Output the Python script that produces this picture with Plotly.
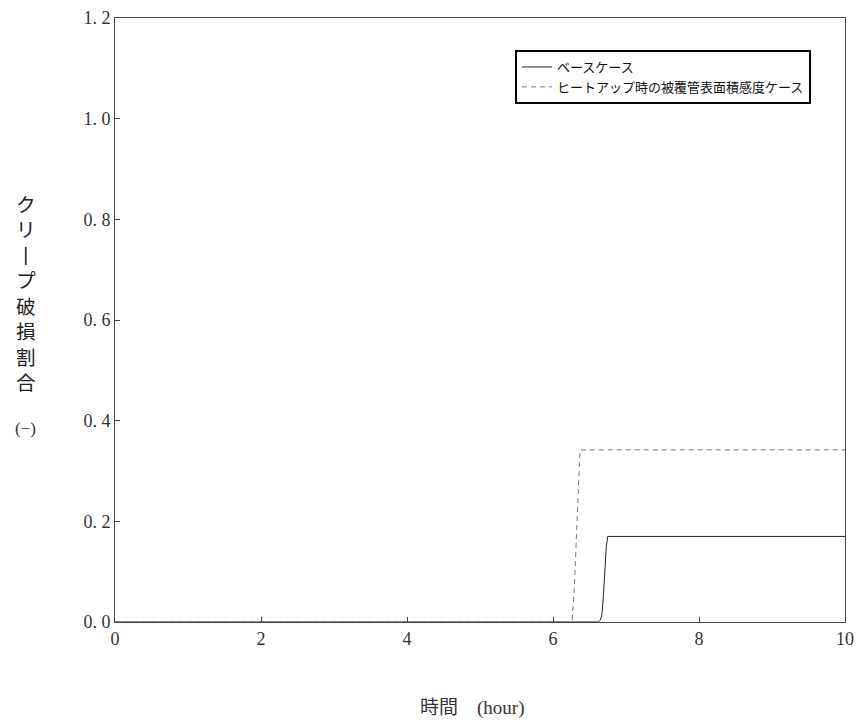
import plotly.graph_objects as go

# time (hour) vs creep damage fraction
base_t = [0, 6.62, 6.65, 6.67, 6.69, 6.71, 6.73, 6.75, 10]
base_v = [0, 0, 0.004, 0.015, 0.05, 0.10, 0.15, 0.17, 0.17]
heat_t = [0, 6.26, 6.29, 6.32, 6.35, 6.37, 10]
heat_v = [0, 0, 0.06, 0.17, 0.29, 0.342, 0.342]

names = ["ベースケース", "ヒートアップ時の被覆管表面積感度ケース"]
x_ticks = [0, 2, 4, 6, 8, 10]
y_ticks = [0, 0.2, 0.4, 0.6, 0.8, 1.0, 1.2]
y_tick_text = ["0.\u00a00", "0.\u00a02", "0.\u00a04", "0.\u00a06",
               "0.\u00a08", "1.\u00a00", "1.\u00a02"]
# vertical writing: the long-vowel mark is drawn upright
y_title_chars = ["ク", "リ", "丨", "プ", "破", "損", "割", "合"]

SERIF = "Liberation Serif, Noto Sans CJK JP"
CJK = "Noto Sans CJK JP, Liberation Serif"

# plot area in pixels
L, R, T, B = 115, 12, 18, 102
H = 724 - T - B


def py(pix):
    # page pixel row -> paper y
    return (724 - B - pix) / H


def px_(pix):
    return (pix - L) / (857 - L - R)


fig = go.Figure()
fig.add_trace(go.Scatter(
    x=base_t, y=base_v, name=names[0], mode="lines",
    line=dict(color="#222222", width=1),
))
fig.add_trace(go.Scatter(
    x=heat_t, y=heat_v, name=names[1], mode="lines",
    line=dict(color="#777777", width=1, dash="5px,4px"),
))

axis_common = dict(
    showgrid=False, zeroline=False, showline=True, mirror=True,
    linecolor="#444444", linewidth=1, automargin=False,
    ticks="inside", ticklen=5, tickcolor="#444444",
    tickfont=dict(family=SERIF, size=18, color="#333333"),
)

fig.update_layout(
    width=857, height=724,
    margin=dict(l=L, r=R, t=T, b=B),
    plot_bgcolor="white", paper_bgcolor="white",
    showlegend=True,
    legend=dict(
        x=px_(515), y=py(50), xanchor="left", yanchor="top",
        bgcolor="white", bordercolor="black", borderwidth=2,
        font=dict(family=CJK, size=13, color="#111111"),
        tracegroupgap=0, itemwidth=30,
    ),
    xaxis=dict(range=[0, 10], tickvals=x_ticks, **axis_common),
    yaxis=dict(range=[0, 1.2], tickvals=y_ticks, ticktext=y_tick_text, **axis_common),
)

fig.add_annotation(
    xref="paper", yref="paper", x=px_(472), y=py(705), yanchor="middle",
    text="時間\u3000<span style='font-family:Liberation Serif'>(hour)</span>",
    showarrow=False, font=dict(family=CJK, size=19, color="#333333"),
)
fig.add_annotation(
    xref="paper", yref="paper", x=px_(26), y=py(187), xanchor="center", yanchor="top",
    text="<br>".join(y_title_chars), showarrow=False,
    font=dict(family=CJK, size=19.6, color="#222222"),
)
fig.add_annotation(
    xref="paper", yref="paper", x=px_(25), y=py(428), xanchor="center", yanchor="middle",
    text="(−)", showarrow=False,
    font=dict(family=SERIF, size=17, color="#333333"),
)

fig.write_html("out.html", config={"displayModeBar": False},
               post_script="document.body.style.margin='0';")
